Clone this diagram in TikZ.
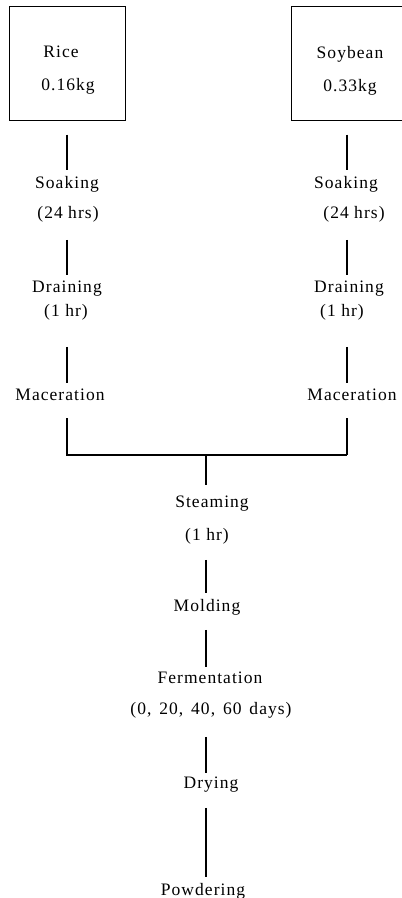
\documentclass[tikz,border=0pt]{standalone}
\usepackage{fontspec}
\setmainfont{Liberation Serif}[LetterSpace=6]
\begin{document}
\begin{tikzpicture}[x=1pt,y=-1pt,
  every node/.style={inner sep=0pt, anchor=base, font=\fontsize{17.5}{21}\selectfont},
  frame/.style={draw, line width=1pt, anchor=center},
  link/.style 2 args={draw, line width=1.1pt, shorten <=#1pt, shorten >=#2pt}]
  \useasboundingbox (0,0) rectangle (402,898);

  % raw material boxes
  \node[frame, minimum width=116pt, minimum height=114pt] (boxL) at (67,63) {};
  \node[frame, minimum width=112pt, minimum height=114pt] (boxR) at (347,63) {};
  \node (rice)  at (61,57)  {Rice};
  \node (riceW) at (68,90)  {0.16kg};
  \node (soy)   at (350,58) {Soybean};
  \node (soyW)  at (350,91) {0.33kg};

  % rice branch
  \node (soakL)  at (67,188)  {Soaking};
  \node (hrsL)   at (68,218)  {(24 hrs)};
  \node (drainL) at (67,292)  {Draining};
  \node (hrL)    at (66,316)  {(1 hr)};
  \node (macL)   at (60,400)  {Maceration};

  % soybean branch
  \node (soakR)  at (346,188) {Soaking};
  \node (hrsR)   at (354,218) {(24 hrs)};
  \node (drainR) at (349,292) {Draining};
  \node (hrR)    at (342,316) {(1 hr)};
  \node (macR)   at (352,400) {Maceration};

  % common steps
  \node (steam) at (212,507) {Steaming};
  \node (hrC)   at (207,540) {(1 hr)};
  \node (mold)  at (207,611) {Molding};
  \node (ferm)  at (210,683) {Fermentation};
  \node (days)  at (211,714) {(0,\hspace{0.45em}20,\hspace{0.45em}40,\hspace{0.45em}60\hspace{0.45em}days)};
  \node (dry)   at (211,788) {Drying};
  \node (powd)  at (203,895) {Powdering};

  % connectors, rice branch
  \draw[link={14}{6}]  (boxL.south) -- (boxL.south |- soakL.north);
  \draw[link={18}{5}]  (boxL.south |- hrsL.south) -- (boxL.south |- drainL.north);
  \draw[link={27}{5}]  (boxL.south |- hrL.south) -- (boxL.south |- macL.north);

  % connectors, soybean branch
  \draw[link={14}{6}]  (boxR.south) -- (boxR.south |- soakR.north);
  \draw[link={18}{5}]  (boxR.south |- hrsR.south) -- (boxR.south |- drainR.north);
  \draw[link={27}{5}]  (boxR.south |- hrR.south) -- (boxR.south |- macR.north);

  % merging bracket
  \coordinate (joinL) at (boxL.south |- 0,455);
  \coordinate (joinR) at (boxR.south |- 0,455);
  \coordinate (joinC) at (206,455);
  \draw[link={18}{0}] (boxL.south |- macL.south) -- (joinL) -- (joinR);
  \draw[link={18}{0}] (boxR.south |- macR.south) -- (joinR);
  \draw[link={0}{10}] (joinC) -- (joinC |- steam.north);

  % connectors, common steps
  \draw[link={16}{6}] (joinC |- hrC.south)  -- (joinC |- mold.north);
  \draw[link={15}{4}] (joinC |- mold.south) -- (joinC |- ferm.north);
  \draw[link={19}{3}] (joinC |- days.south) -- (joinC |- dry.north);
  \draw[link={16}{6}] (joinC |- dry.south)  -- (joinC |- powd.north);
\end{tikzpicture}
\end{document}
